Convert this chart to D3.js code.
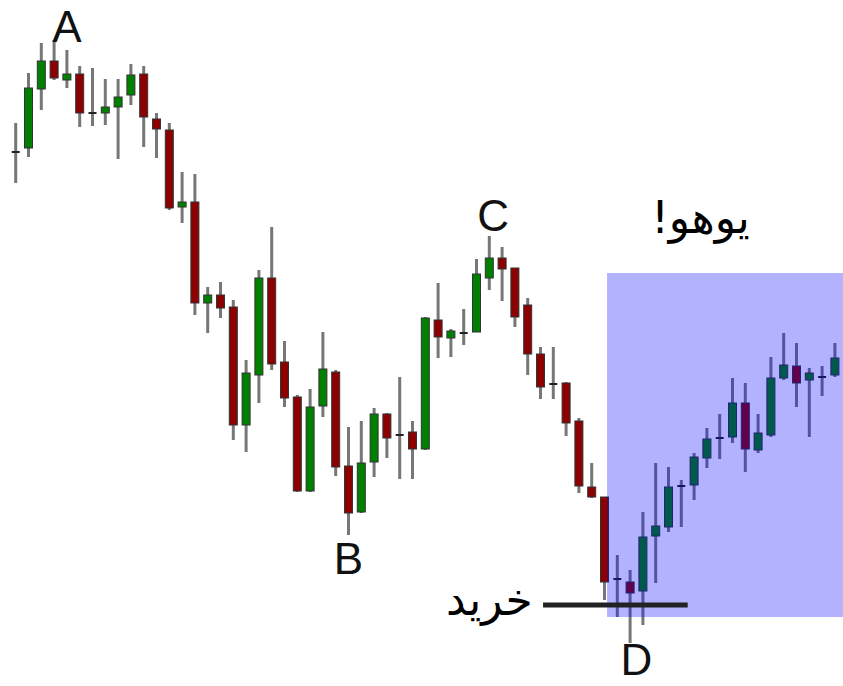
<!DOCTYPE html>
<html lang="fa">
<head>
  <meta charset="UTF-8">
  <title>ABCD</title>
  <script src="https://cdn.jsdelivr.net/npm/d3@7"></script>
  <style>
    html, body { margin: 0; padding: 0; background: #fff; }
    .label { font-family: "Liberation Sans", Arial, sans-serif; font-size: 44px; fill: #111; }
    .fa { font-family: "DejaVu Sans", sans-serif; font-size: 44px; fill: #000; }
  </style>
</head>
<body>
<div class="chart"></div>
<script>
  // candle prices (one entry per bar)
  const opens  = [548,552,611,639,620,626,587,587,593,605,626,581,570,493,498,397,405,393,275,325,422,338,303,209,294,328,234,188,238,286,265,268,251,380,362,367,368,422,442,432,395,346,316,317,279,213,203,121,118,109,164,173,214,215,242,262,263,297,250,265,322,334,320,323,325,342]
  const highs  = [577,627,657,660,650,634,632,621,621,636,634,587,577,528,526,413,418,400,340,430,473,359,305,311,368,330,273,279,292,287,323,279,383,417,371,391,441,464,453,432,402,353,353,318,282,237,203,145,130,188,237,233,220,247,272,286,322,317,286,343,367,357,332,334,357,370]
  const lows   = [517,543,590,620,612,573,574,575,541,595,553,542,490,477,385,367,382,260,248,297,330,293,208,208,283,224,165,187,223,242,221,221,250,342,343,355,368,410,399,373,325,301,301,264,207,202,100,83,57,75,117,168,173,200,232,241,257,228,247,263,320,293,263,304,323,338]
  const closes = [548,612,639,622,626,587,587,593,603,625,583,571,492,498,397,405,392,275,327,422,336,302,209,293,331,233,187,237,286,262,265,251,382,363,369,367,426,442,431,383,346,313,316,277,214,203,118,121,107,163,174,213,214,243,261,262,297,251,267,322,335,317,327,323,342,360]

  // letters on the swing points: [text, bar index, price]
  const pointLabels = [['A', 4, 658], ['B', 26, 126], ['C', 37.3, 469], ['D', 48.5, 25]]
  // buy zone and buy line
  const zoneBars = [46.2, 70]
  const zonePrices = [83, 427]
  const buyLine = { from: 41.2, to: 52.5, price: 95 }
  const notes = [['یوهو!', 53.5, 467, 'middle'], ['خرید', 40.4, 85, 'end']]

  const width = 843, height = 686
  const bars = opens.map((o, i) => ({ i, o, h: highs[i], l: lows[i], c: closes[i] }))

  const x = d3.scaleLinear().domain([0, 65]).range([15.7, 847.7])
  const y = d3.scaleLinear().domain([0, 700]).range([700, 0])

  const svg = d3.select('.chart').append('svg')
    .attr('width', width)
    .attr('height', height)

  const candle = svg.append('g').selectAll('g')
    .data(bars)
    .join('g')
    .attr('transform', d => 'translate(' + x(d.i) + ',0)')

  candle.append('line')
    .attr('y1', d => y(d.h))
    .attr('y2', d => y(d.l))
    .attr('stroke', '#777')
    .attr('stroke-width', 3)

  candle.filter(d => d.o !== d.c).append('rect')
    .attr('x', -4)
    .attr('width', 8)
    .attr('y', d => y(Math.max(d.o, d.c)))
    .attr('height', d => Math.abs(y(d.o) - y(d.c)))
    .attr('fill', d => d.c > d.o ? '#008000' : '#8b0000')
    .attr('stroke', '#333')
    .attr('stroke-width', 1)

  candle.filter(d => d.o === d.c).append('line')
    .attr('x1', -4).attr('x2', 4)
    .attr('y1', d => y(d.o)).attr('y2', d => y(d.o))
    .attr('stroke', '#222')
    .attr('stroke-width', 2)

  // blue target zone over the candles
  svg.append('rect')
    .attr('x', x(zoneBars[0]))
    .attr('width', x(zoneBars[1]) - x(zoneBars[0]))
    .attr('y', y(zonePrices[1]))
    .attr('height', y(zonePrices[0]) - y(zonePrices[1]))
    .attr('fill', '#0000ff')
    .attr('opacity', 0.3)

  svg.append('line')
    .attr('x1', x(buyLine.from)).attr('x2', x(buyLine.to))
    .attr('y1', y(buyLine.price)).attr('y2', y(buyLine.price))
    .attr('stroke', '#222')
    .attr('stroke-width', 5)

  svg.append('g').selectAll('text')
    .data(pointLabels)
    .join('text')
    .attr('class', 'label')
    .attr('x', d => x(d[1]))
    .attr('y', d => y(d[2]))
    .attr('text-anchor', 'middle')
    .text(d => d[0])

  svg.append('g').selectAll('text')
    .data(notes)
    .join('text')
    .attr('class', 'fa')
    .attr('direction', 'rtl')
    .attr('x', d => x(d[1]))
    .attr('y', d => y(d[2]))
    .attr('text-anchor', d => d[3] === 'end' ? 'start' : 'middle')
    .text(d => d[0])
</script>
</body>
</html>
